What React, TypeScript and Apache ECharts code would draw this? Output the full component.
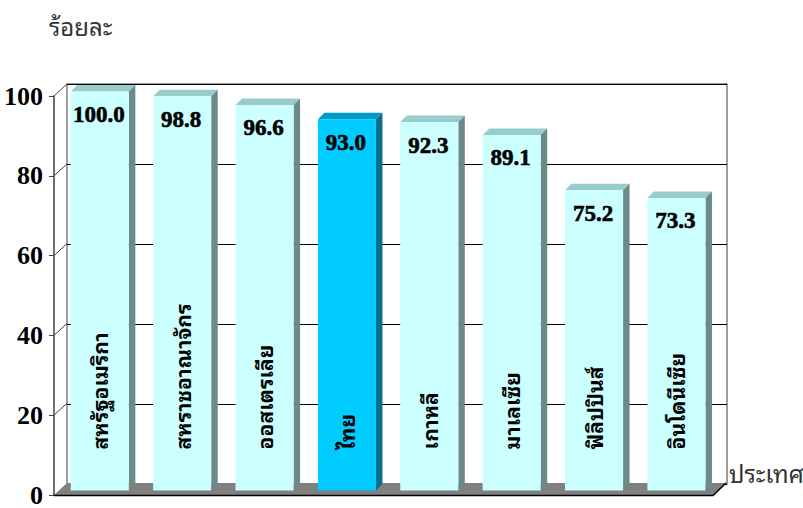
import React, { useEffect, useRef } from "react";
import * as echarts from "echarts";

const categories = [
  "สหรัฐอเมริกา",
  "สหราชอาณาจักร",
  "ออสเตรเลีย",
  "ไทย",
  "เกาหลี",
  "มาเลเซีย",
  "ฟิลิปปินส์",
  "อินโดนีเซีย",
];
const values = [100.0, 98.8, 96.6, 93.0, 92.3, 89.1, 75.2, 73.3];
const highlightIndex = 3;
const yTicks = [0, 20, 40, 60, 80, 100];
const yTitle = "ร้อยละ";
const xTitle = "ประเทศ";

const DX = 13; // back wall depth offset
const DY = -12;
const BAR_SHIFT = 4.6; // bar placed partway into the depth
const BAR_D = 6.5; // bar depth

const THAI_FONT =
  '"Noto Sans Thai Looped", Loma, Garuda, Tahoma, "Noto Sans Thai", "Noto Sans", sans-serif';
const SERIF = '"Liberation Serif", "DejaVu Serif", serif';

export default function App() {
  const ref = useRef<HTMLDivElement>(null);

  useEffect(() => {
    if (!ref.current) return;
    const chart = echarts.init(ref.current, undefined, { renderer: "svg" });

    const renderBar = (params: any, api: any) => {
      const i = api.value(0);
      const v = api.value(1);
      const top = api.coord([i, v]);
      const bot = api.coord([i, 0]);
      const band = api.size([1, 0])[0];
      const bw = band * 0.705;
      const cx = top[0] + BAR_SHIFT;
      const ty = top[1] - BAR_SHIFT;
      const by = bot[1] - BAR_SHIFT;
      const l = cx - bw / 2;
      const r = cx + bw / 2;
      const hi = i === highlightIndex;
      const front = hi ? "#00CCFF" : "#CCFFFF";
      const topC = hi ? "#0099CC" : "#99CCCC";
      const side = hi ? "#0A6F8C" : "#6B8A8A";
      return {
        type: "group",
        children: [
          {
            type: "polygon",
            shape: { points: [[l, ty], [l + BAR_D, ty - BAR_D], [r + BAR_D, ty - BAR_D], [r, ty]] },
            style: { fill: topC },
          },
          {
            type: "polygon",
            shape: { points: [[r, ty], [r + BAR_D, ty - BAR_D], [r + BAR_D, by - BAR_D], [r, by]] },
            style: { fill: side },
          },
          {
            type: "rect",
            shape: { x: l, y: ty, width: bw, height: by - ty },
            style: { fill: front },
          },
          {
            type: "text",
            x: cx - 1,
            y: ty + 23,
            style: {
              text: v.toFixed(1),
              align: "center",
              verticalAlign: "middle",
              fontFamily: SERIF,
              fontWeight: "bold",
              fontSize: 23,
              fill: "#000",
              stroke: "#000",
              lineWidth: 0.6,
            },
          },
          {
            type: "text",
            x: cx - 1,
            y: by - 41,
            rotation: Math.PI / 2,
            style: {
              text: categories[i],
              align: "left",
              verticalAlign: "middle",
              fontFamily: THAI_FONT,
              fontWeight: "bold",
              fontSize: 21,
              fill: "#000",
            },
          },
        ],
      };
    };

    const renderFloor = (params: any, api: any) => {
      const cs = params.coordSys;
      const y0 = api.coord([0, 0])[1];
      const xl = cs.x;
      const xr = cs.x + cs.width;
      return {
        type: "group",
        children: [
          {
            type: "polygon",
            shape: { points: [[xl, y0], [xl + DX, y0 + DY], [xr + DX, y0 + DY], [xr, y0]] },
            style: { fill: "#808080" },
          },
          {
            type: "polyline",
            shape: { points: [[xl, y0 + 0.5], [xr, y0 + 0.5], [xr + DX, y0 + DY]] },
            style: { stroke: "#000", lineWidth: 1.5, fill: "none" },
          },
        ],
      };
    };

    const renderDiag = (params: any, api: any) => {
      const cs = params.coordSys;
      const y = api.coord([0, api.value(1)])[1];
      return {
        type: "line",
        shape: { x1: cs.x, y1: y, x2: cs.x + DX, y2: y + DY },
        style: { stroke: "#404040", lineWidth: 1 },
      };
    };

    chart.setOption({
      animation: false,
      backgroundColor: "#fff",
      title: {
        text: yTitle,
        left: 44,
        top: 8,
        textStyle: { fontFamily: THAI_FONT, fontSize: 24, fontWeight: "normal", color: "#333" },
      },
      graphic: [
        {
          type: "text",
          left: 729,
          top: 460,
          style: { text: xTitle, fontFamily: THAI_FONT, fontSize: 24, fill: "#333" },
        },
      ],
      grid: [
        { left: 54, top: 96, width: 659, height: 400, show: false },
        {
          left: 54 + DX,
          top: 96 + DY,
          width: 659 + 1,
          height: 400,
          show: true,
          borderColor: "#808080",
          borderWidth: 1.5,
          backgroundColor: "transparent",
        },
      ],
      xAxis: [
        {
          type: "category",
          gridIndex: 0,
          data: categories,
          axisLine: { show: false },
          axisTick: { show: false },
          axisLabel: { show: false },
          splitLine: { show: false },
        },
        {
          type: "category",
          gridIndex: 1,
          data: categories,
          axisLine: { show: false },
          axisTick: { show: false },
          axisLabel: { show: false },
          splitLine: { show: false },
        },
      ],
      yAxis: [
        {
          type: "value",
          gridIndex: 0,
          min: 0,
          max: 100,
          interval: 20,
          axisLine: { show: true, lineStyle: { color: "#404040", width: 1.5 } },
          axisTick: { show: true, length: 5, lineStyle: { color: "#404040" } },
          axisLabel: {
            margin: 11,
            fontFamily: SERIF,
            fontWeight: "bold",
            fontSize: 26,
            color: "#000",
          },
          splitLine: { show: false },
        },
        {
          type: "value",
          gridIndex: 1,
          min: 0,
          max: 100,
          interval: 20,
          axisLine: { show: false },
          axisTick: { show: false },
          axisLabel: { show: false },
          splitLine: { show: true, lineStyle: { color: "#000", width: 1 } },
        },
      ],
      series: [
        {
          type: "custom",
          xAxisIndex: 0,
          yAxisIndex: 0,
          z: 1,
          renderItem: renderFloor,
          data: [[0, 0]],
          silent: true,
        },
        {
          type: "custom",
          xAxisIndex: 0,
          yAxisIndex: 0,
          z: 1,
          renderItem: renderDiag,
          data: yTicks.filter((t) => t > 0).map((t) => [0, t]),
          silent: true,
        },
        {
          type: "custom",
          xAxisIndex: 0,
          yAxisIndex: 0,
          z: 3,
          renderItem: renderBar,
          data: values.map((v, i) => [i, v]),
        },
      ],
    });

    return () => chart.dispose();
  }, []);

  return (
    <div
      ref={ref}
      style={{ position: "fixed", left: 0, top: 0, width: 803, height: 508 }}
    />
  );
}
